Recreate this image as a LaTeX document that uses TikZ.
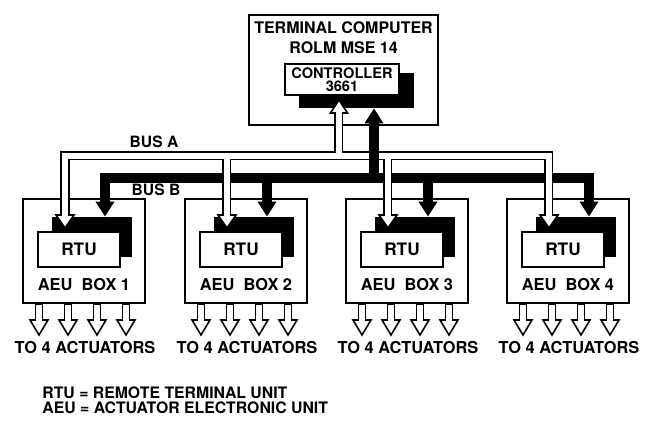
\documentclass[tikz,border=0pt]{standalone}
\usepackage{fontspec}
\setmainfont{TeX Gyre Heros}
\usetikzlibrary{arrows.meta}

\tikzset{
  box/.style={draw, line width=0.7pt, fill=white, inner sep=0pt},
  shadowbox/.style={fill=black, inner sep=0pt},
  lab/.style={font=\fontsize{7.8}{10}\selectfont\bfseries, inner sep=0pt, align=center},
  busB/.style={line width=5pt, -{Triangle[length=7.5pt, width=9pt]}},
  busAout/.style={line width=4.5pt},
  busAin/.style={white, line width=3pt, shorten >=-1pt},
  hollowhead/.style={draw, fill=white, line width=0.8pt, line join=miter},
  outarrow/.style={line width=4.2pt},
  outin/.style={white, line width=2.6pt, shorten >=-1pt, shorten <=0.5pt},
}

\begin{document}
\begin{tikzpicture}[x=0.5pt, y=-0.5pt]
    \useasboundingbox (0,0) rectangle (650,421);

    % terminal computer and controller
    \node[box, minimum width=94.5pt, minimum height=55pt] (comp) at (343.5,70) {};
    \node[lab, font=\fontsize{8}{10}\selectfont\bfseries] (comptxt) at (343.5,38) {TERMINAL COMPUTER\\ROLM MSE 14};
    \node[shadowbox, minimum width=57.5pt, minimum height=17.5pt] (ctrlsh) at (356.5,90.5) {};
    \node[box, minimum width=57pt, minimum height=15.5pt, align=center, font=\fontsize{7.3}{6.6}\selectfont\bfseries] (ctrl) at (342,79.5) {CONTROLLER\\3661};

    % AEU boxes
    \foreach \k/\L in {1/23,2/185,3/346,4/507}{
        \node[box, minimum width=61pt, minimum height=52pt] (aeu\k) at (\L+61,251) {};
        \node[lab, font=\fontsize{8.2}{10}\selectfont\bfseries] (aeutxt\k) at (\L+61,285) {AEU\ \ BOX \k};
        \node[shadowbox, minimum width=40pt, minimum height=20pt] (rtush\k) at (\L+69,237) {};
        \node[box, minimum width=41pt, minimum height=17.5pt, font=\fontsize{8.6}{10}\selectfont\bfseries] (rtu\k) at (\L+56,249.5) {RTU};
        \node[lab, font=\fontsize{8.2}{10}\selectfont\bfseries] (act\k) at (\L+62,348) {TO 4 ACTUATORS};
        \coordinate (atip\k) at (\L+42,228);
        \coordinate (abase\k) at (\L+42,215);
        \coordinate (btip\k) at (rtush\k.north -| \L+82,0);
        \foreach \i in {0,...,3}
            \coordinate (ot\k\i) at (\L+16+29*\i,335);
    }

    \node[lab] (busa) at (154,142) {BUS A};
    \node[lab] (busb) at (156,190) {BUS B};

    \coordinate (ajoin) at (339,156);
    \coordinate (bjoin) at (374,178);
    \coordinate (actip) at (339,100);
    \coordinate (acbase) at (339,113);
    \coordinate (bctip) at (ctrlsh.south -| 374,0);

    % bus B
    \foreach \k in {1,...,4}
        \draw[busB] (bjoin) -| (btip\k);

    % bus A
    \foreach \k in {1,...,4}
        \draw[busAout] (ajoin) -| (abase\k);
    \draw[busAout] (ajoin) -- (acbase);
    \foreach \k in {1,...,4}
        \draw[hollowhead] (atip\k) -- ++(-9,-13) -- ++(18,0) -- cycle;
    \draw[hollowhead] (actip) -- ++(-8.5,13) -- ++(17,0) -- cycle;
    \foreach \k in {1,...,4}
        \draw[busAin] (ajoin) -| (abase\k);
    \draw[busAin] (ajoin) -- (acbase);

    \draw[busB] (bjoin) -- (bctip);

    % to the actuators
    \foreach \k in {1,...,4}
        \foreach \i in {0,...,3}{
            \draw[outarrow] (aeu\k.south -| ot\k\i) -- ([yshift=7.5pt]ot\k\i);
            \draw[hollowhead] (ot\k\i) -- ++(-9,-15) -- ++(18,0) -- cycle;
            \draw[outin] (aeu\k.south -| ot\k\i) -- ([yshift=7.5pt]ot\k\i);
        }

    \node[lab, anchor=west, align=left, font=\fontsize{7.9}{7.5}\selectfont\bfseries] (legend) at (42,400.5) {RTU = REMOTE TERMINAL UNIT\\AEU = ACTUATOR ELECTRONIC UNIT};
\end{tikzpicture}
\end{document}
